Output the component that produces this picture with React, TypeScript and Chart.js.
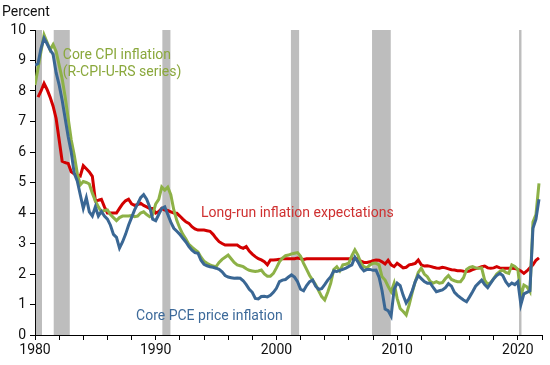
import React, { useEffect, useRef } from "react";
import { Chart, registerables } from "chart.js";

Chart.register(...registerables);

const START_YEAR = 1980;

// Quarterly values, 1980Q1 .. 2021Q4
const corePCE = [
  8.85, 8.9, 9.4, 9.73, 9.55, 9.35, 9.2, 8.6, 8.2, 7.7, 7.1, 6.5, 6.0, 5.3, 5.05, 4.6,
  4.15, 4.5, 4.04, 3.9, 4.2, 3.9, 4.05, 3.9, 3.8, 3.6, 3.3, 3.2, 2.85, 3.05, 3.3, 3.6,
  3.85, 4.1, 4.3, 4.5, 4.6, 4.45, 4.2, 3.8,
  3.75, 3.95, 4.15, 4.2, 3.95, 3.7, 3.5, 3.4, 3.3, 3.17, 3.05, 2.9, 2.78, 2.7, 2.68, 2.45,
  2.32, 2.27, 2.24, 2.22, 2.19, 2.15, 2.07, 1.95, 1.9, 1.88, 1.86, 1.87, 1.86, 1.78, 1.65, 1.5,
  1.4, 1.2, 1.18, 1.26, 1.27, 1.25, 1.3, 1.4,
  1.53, 1.75, 1.8, 1.82, 1.9, 1.97, 1.9, 1.75, 1.5, 1.45, 1.62, 1.75, 1.8, 1.6, 1.5, 1.52,
  1.65, 1.8, 1.91, 2.1, 2.08, 2.12, 2.15, 2.19, 2.25, 2.3, 2.55, 2.4, 2.22, 2.1, 2.15, 2.15,
  2.12, 2.13, 1.9, 1.45, 0.85, 0.8, 0.62, 1.5,
  1.7, 1.62, 1.3, 1.05, 1.2, 1.45, 1.75, 1.95, 1.85, 1.75, 1.7, 1.7, 1.55, 1.42, 1.45, 1.48,
  1.55, 1.68, 1.6, 1.4, 1.3, 1.22, 1.15, 1.09, 1.25, 1.42, 1.6, 1.7, 1.8, 1.65, 1.55, 1.7,
  1.85, 1.95, 2.02, 1.95, 1.75, 1.62, 1.7, 1.65,
  1.75, 1.0, 1.35, 1.4, 1.45, 3.5, 3.8, 4.45,
];

const coreCPI = [
  8.2, 8.74, 9.3, 9.84, 9.6, 9.35, 9.52, 9.3, 8.85, 8.4, 7.8, 7.1, 6.4, 5.9, 5.3, 4.92,
  5.03, 5.0, 4.95, 4.65, 4.4, 4.2, 4.05, 4.08, 4.1, 3.95, 3.85, 3.75, 3.85, 3.9, 3.9, 3.9,
  3.92, 3.88, 3.9, 4.0, 4.04, 3.95, 3.88, 3.95,
  4.3, 4.45, 4.85, 4.75, 4.85, 4.6, 4.1, 3.75, 3.5, 3.3, 3.15, 2.97, 2.88, 2.8, 2.72, 2.55,
  2.42, 2.35, 2.3, 2.26, 2.24, 2.38, 2.48, 2.55, 2.62, 2.5, 2.38, 2.3, 2.27, 2.24, 2.17, 2.12,
  2.1, 2.08, 2.1, 2.13, 2.0, 1.93, 1.93, 2.02,
  2.2, 2.4, 2.52, 2.6, 2.62, 2.66, 2.68, 2.7, 2.58, 2.35, 2.15, 1.95, 1.8, 1.65, 1.45, 1.26,
  1.15, 1.4, 1.7, 2.15, 2.24, 2.1, 2.3, 2.32, 2.36, 2.6, 2.79, 2.62, 2.35, 2.24, 2.2, 2.3,
  2.35, 2.35, 2.3, 1.91, 1.8, 1.6, 1.42, 1.7,
  1.2, 0.87, 0.77, 0.66, 1.0, 1.4, 1.75, 2.05, 2.19, 2.0, 1.91, 1.75, 1.7, 1.75, 1.7, 1.72,
  1.85, 1.95, 1.82, 1.78, 1.75, 1.75, 1.88, 2.15, 2.22, 2.24, 2.2, 2.19, 2.2, 1.8, 1.66, 1.72,
  1.85, 2.0, 2.08, 2.13, 2.05, 2.02, 2.3, 2.25,
  2.15, 1.25, 1.64, 1.58, 1.42, 3.7, 3.95, 4.97,
];

const longRunExp = [
  null, 7.8, 8.0, 8.25, 8.05, 7.8, 7.5, 7.1, 6.4, 5.7, 5.65, 5.62, 5.35, 5.28, 5.25, 5.21,
  5.55, 5.45, 5.35, 5.2, 4.4, 4.42, 4.45, 4.2, 4.0, 4.0, 4.0, 4.0, 4.15, 4.3, 4.4, 4.45,
  4.3, 4.25, 4.28, 4.32, 4.25, 4.2, 4.15, 4.15,
  4.0, 4.05, 4.15, 4.1, 4.08, 4.04, 4.0, 3.99, 3.9, 3.8, 3.71, 3.66, 3.55, 3.48, 3.44, 3.44,
  3.44, 3.42, 3.4, 3.3, 3.17, 3.06, 3.0, 2.95, 2.95, 2.95, 2.95, 2.95, 2.88, 2.84, 2.9, 2.75,
  2.65, 2.57, 2.5, 2.46, 2.4, 2.3, 2.46, 2.46,
  2.47, 2.48, 2.5, 2.5, 2.5, 2.5, 2.5, 2.52, 2.5, 2.48, 2.5, 2.5, 2.5, 2.5, 2.5, 2.5,
  2.5, 2.5, 2.5, 2.5, 2.5, 2.5, 2.5, 2.5, 2.5, 2.5, 2.5, 2.5, 2.42, 2.38, 2.38, 2.4,
  2.44, 2.46, 2.45, 2.4, 2.33, 2.45, 2.3, 2.24,
  2.35, 2.28, 2.2, 2.22, 2.3, 2.32, 2.35, 2.46, 2.3, 2.26, 2.27, 2.25, 2.22, 2.2, 2.19, 2.22,
  2.2, 2.17, 2.14, 2.13, 2.11, 2.11, 2.09, 2.08, 2.1, 2.14, 2.18, 2.2, 2.24, 2.26, 2.2, 2.19,
  2.2, 2.24, 2.2, 2.19, 2.19, 2.19, 2.19, 2.18,
  2.15, 2.1, 2.02, 2.1, 2.2, 2.3, 2.45, 2.53,
];

// Recession periods [start, end] in years
const recessionStarts = [1980.08, 1981.55, 1990.55, 2001.2, 2007.92, 2020.1];
const recessionEnds = [1980.58, 1982.88, 1991.22, 2001.88, 2009.47, 2020.3];

const xTickLabels = [1980, 1990, 2000, 2010, 2020];

const BLUE = "#3a6794";
const GREEN = "#8db147";
const RED = "#d20000";

const toPoints = (arr: (number | null)[]) =>
  arr.map((v, i) => ({ x: START_YEAR + i / 4, y: v }));

const recessionPlugin = {
  id: "recessions",
  beforeDatasetsDraw(chart: any) {
    const { ctx, chartArea, scales } = chart;
    ctx.save();
    ctx.fillStyle = "#bdbdbd";
    for (let i = 0; i < recessionStarts.length; i++) {
      const x1 = scales.x.getPixelForValue(recessionStarts[i]);
      const x2 = scales.x.getPixelForValue(recessionEnds[i]);
      ctx.fillRect(x1, chartArea.top, Math.max(2, x2 - x1), chartArea.bottom - chartArea.top);
    }
    ctx.restore();
  },
};

const labelsPlugin = {
  id: "labels",
  afterDatasetsDraw(chart: any) {
    const { ctx, scales } = chart;
    const x = scales.x;
    const y = scales.y;
    ctx.save();
    ctx.font = "14px Roboto";
    ctx.textBaseline = "middle";
    ctx.textAlign = "left";
    ctx.fillStyle = "#8aa83c";
    ctx.fillText("Core CPI inflation", x.getPixelForValue(1982.3), y.getPixelForValue(9.18));
    ctx.fillText("(R-CPI-U-RS series)", x.getPixelForValue(1982.3), y.getPixelForValue(8.62));
    ctx.fillStyle = "#cf3030";
    ctx.fillText("Long-run inflation expectations", x.getPixelForValue(1993.75), y.getPixelForValue(3.97));
    ctx.fillStyle = "#3d6a9a";
    ctx.fillText("Core PCE price inflation", x.getPixelForValue(1988.37), y.getPixelForValue(0.62));
    ctx.fillStyle = "#111";
    ctx.fillText("Percent", 2, 12);
    ctx.restore();
  },
};

export default function App() {
  const ref = useRef<HTMLCanvasElement | null>(null);

  useEffect(() => {
    document.body.style.margin = "0";
    if (!ref.current) return;
    const chart = new Chart(ref.current, {
      type: "line",
      data: {
        datasets: [
          {
            label: "Core PCE price inflation",
            data: toPoints(corePCE),
            borderColor: BLUE,
            borderWidth: 3,
            pointRadius: 0,
            tension: 0,
          },
          {
            label: "Core CPI inflation",
            data: toPoints(coreCPI),
            borderColor: GREEN,
            borderWidth: 3,
            pointRadius: 0,
            tension: 0,
          },
          {
            label: "Long-run inflation expectations",
            data: toPoints(longRunExp),
            borderColor: RED,
            borderWidth: 3,
            pointRadius: 0,
            tension: 0,
          },
        ],
      },
      options: {
        responsive: false,
        animation: false,
        layout: { padding: { top: 30, right: 8, left: 0, bottom: 0 } },
        plugins: { legend: { display: false }, tooltip: { enabled: false } },
        scales: {
          x: {
            type: "linear",
            min: 1980,
            max: 2022,
            afterFit: (s: any) => {
              s.height = 30;
            },
            border: { display: true, color: "#000", width: 1 },
            grid: { display: true, drawOnChartArea: false, drawTicks: true, tickLength: 5, color: "#000" },
            ticks: {
              stepSize: 2,
              autoSkip: false,
              maxRotation: 0,
              color: "#111",
              font: { family: "Roboto", size: 14 },
              padding: 2,
              callback: (v: any) => (xTickLabels.includes(Number(v)) ? String(v) : ""),
            },
          },
          y: {
            min: 0,
            max: 10,
            afterFit: (s: any) => {
              s.width = 35;
            },
            border: { display: true, color: "#000", width: 1 },
            grid: { display: true, drawOnChartArea: false, drawTicks: true, tickLength: 5, color: "#000" },
            ticks: {
              stepSize: 1,
              color: "#111",
              font: { family: "Roboto", size: 14 },
              padding: 4,
            },
          },
        },
      },
      plugins: [recessionPlugin, labelsPlugin],
    });
    return () => chart.destroy();
  }, []);

  return (
    <div style={{ width: 550, height: 365 }}>
      <canvas ref={ref} width={550} height={365} />
    </div>
  );
}
